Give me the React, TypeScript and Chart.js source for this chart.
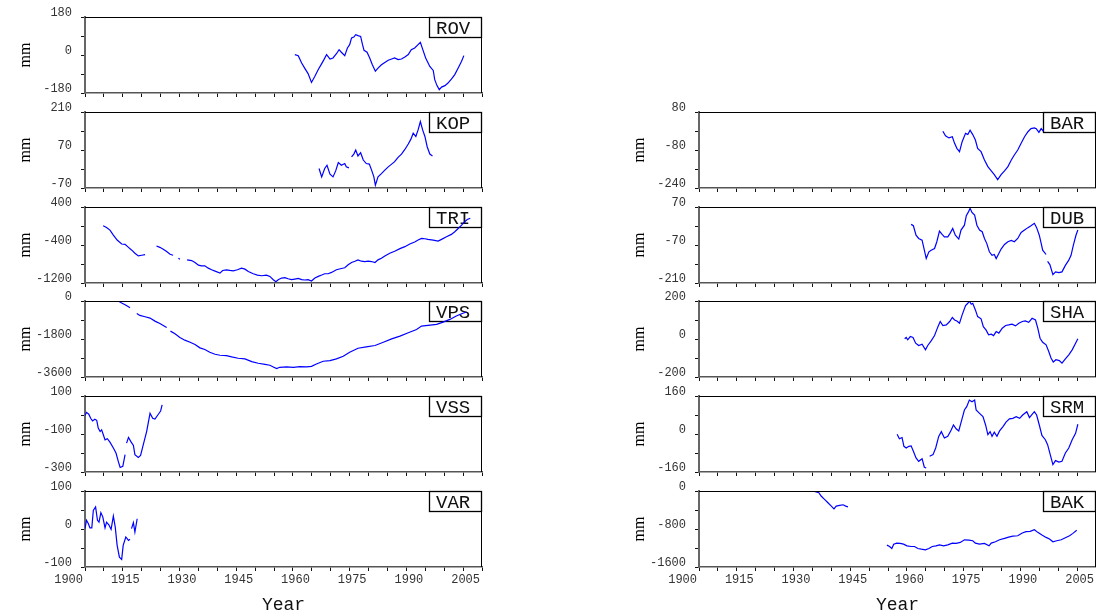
import React, { useEffect, useRef } from 'react';
import { Chart, registerables } from 'chart.js';

Chart.register(...registerables);

type Pt = [number, number | null];

// ---- data (year, mm); null = gap in record ----
const ROV: Pt[] = [[1955.5,2],[1956.4,-3],[1957.3,-38],[1958.1,-62],[1959.0,-88],[1959.9,-130],[1960.8,-101],[1961.7,-69],[1962.6,-41],[1963.2,-22],[1963.9,2],[1964.8,-19],[1965.6,-14],[1966.5,6],[1967.2,25],[1967.8,13],[1968.7,-3],[1969.4,33],[1970.0,49],[1970.5,81],[1971.1,85],[1971.6,96],[1972.2,92],[1972.9,88],[1973.4,49],[1973.8,22],[1974.6,13],[1975.3,-14],[1976.0,-46],[1976.8,-77],[1977.5,-62],[1978.4,-46],[1979.3,-35],[1980.2,-25],[1981.1,-19],[1981.9,-14],[1982.8,-22],[1983.7,-19],[1984.6,-9],[1985.5,2],[1986.3,25],[1987.2,33],[1988.1,49],[1988.7,60],[1989.3,28],[1990.1,-14],[1991.2,-54],[1992.1,-73],[1992.5,-117],[1993.1,-145],[1993.7,-164],[1994.3,-152],[1995.2,-145],[1996.0,-133],[1996.9,-114],[1997.8,-93],[1998.7,-62],[1999.6,-30],[2000.2,-3]];

const KOP: Pt[] = [[1961.9,2],[1962.6,-29],[1963.4,2],[1964.0,14],[1964.8,-19],[1965.6,-29],[1966.3,-7],[1967.0,24],[1967.8,14],[1968.7,20],[1969.1,8],[1969.8,4],[1970.1,null],[1970.5,45],[1971.1,55],[1971.6,70],[1972.2,48],[1972.9,60],[1973.6,33],[1974.4,20],[1975.2,18],[1975.8,-4],[1976.4,-29],[1976.8,-60],[1977.5,-29],[1978.4,-17],[1979.3,-4],[1980.2,8],[1981.1,18],[1981.9,27],[1982.8,43],[1983.7,55],[1984.6,72],[1985.5,92],[1986.2,110],[1986.8,132],[1987.5,120],[1988.1,144],[1988.7,175],[1989.3,144],[1989.9,120],[1990.5,82],[1991.2,55],[1991.9,48]];

const TRI: Pt[] = [[1904.8,4],[1905.7,-31],[1906.6,-87],[1907.5,-191],[1908.5,-296],[1909.7,-379],[1910.6,-386],[1911.5,-449],[1912.3,-504],[1913.2,-574],[1914.1,-630],[1915.0,-616],[1915.9,-602],[1917.4,null],[1918.9,-421],[1919.8,-449],[1920.7,-490],[1921.6,-539],[1922.5,-595],[1923.3,-616],[1924.0,null],[1924.7,-678],[1925.1,-699],[1926.0,null],[1927.0,-713],[1928.2,-727],[1929.1,-769],[1930.0,-824],[1930.8,-838],[1931.7,-838],[1932.6,-887],[1933.5,-922],[1934.4,-950],[1935.7,-991],[1936.4,-936],[1937.4,-922],[1938.3,-936],[1939.2,-943],[1940.3,-922],[1941.4,-887],[1942.3,-908],[1943.2,-957],[1944.5,-1005],[1945.6,-1033],[1946.7,-1047],[1948.0,-1033],[1948.9,-1061],[1949.8,-1130],[1950.5,-1172],[1951.1,-1130],[1952.0,-1096],[1952.9,-1089],[1953.7,-1110],[1954.6,-1130],[1955.5,-1117],[1956.4,-1103],[1957.3,-1130],[1958.1,-1137],[1959.0,-1130],[1959.9,-1158],[1960.8,-1096],[1961.7,-1061],[1962.6,-1033],[1963.4,-1005],[1964.3,-1005],[1965.2,-977],[1966.5,-922],[1967.8,-894],[1968.7,-880],[1969.6,-817],[1970.5,-769],[1971.4,-741],[1972.2,-713],[1973.1,-741],[1974.0,-748],[1974.9,-741],[1975.8,-748],[1976.7,-769],[1977.5,-713],[1978.4,-678],[1979.3,-630],[1980.6,-574],[1981.9,-532],[1983.3,-477],[1984.6,-435],[1985.9,-379],[1987.2,-337],[1988.1,-296],[1989.0,-261],[1989.9,-268],[1990.7,-282],[1992.1,-296],[1993.4,-317],[1994.3,-282],[1995.6,-226],[1996.9,-177],[1997.8,-122],[1998.7,-52],[1999.6,17],[2000.4,87],[2001.1,136],[2001.9,163]];

const VPS: Pt[] = [[1908.8,0],[1909.7,-95],[1910.6,-174],[1911.5,-270],[1911.9,-317],[1912.8,null],[1913.7,-587],[1914.5,-682],[1915.9,-745],[1917.2,-809],[1918.5,-952],[1919.8,-1063],[1920.7,-1158],[1921.6,-1253],[1922.1,null],[1922.6,-1427],[1923.8,-1554],[1925.1,-1729],[1926.4,-1856],[1927.8,-1951],[1929.1,-2062],[1930.4,-2220],[1931.7,-2300],[1933.0,-2427],[1934.4,-2522],[1935.7,-2569],[1937.4,-2585],[1938.8,-2649],[1940.5,-2712],[1942.3,-2744],[1944.1,-2871],[1945.8,-2950],[1947.6,-2998],[1948.9,-3045],[1949.8,-3124],[1950.7,-3204],[1951.5,-3140],[1953.3,-3124],[1955.1,-3140],[1956.8,-3109],[1958.6,-3124],[1959.9,-3093],[1961.2,-2982],[1963.0,-2855],[1964.8,-2823],[1966.5,-2744],[1968.3,-2617],[1970.0,-2427],[1972.2,-2236],[1974.4,-2173],[1976.7,-2109],[1978.9,-1951],[1981.1,-1792],[1983.3,-1665],[1985.5,-1507],[1987.7,-1348],[1989.0,-1190],[1990.7,-1158],[1993.0,-1110],[1994.7,-999],[1996.5,-872],[1998.2,-714],[1999.6,-603],[2000.9,-523]];

const VSS: Pt[] = [[1900.0,-3],[1900.4,14],[1901.0,4],[1901.5,-17],[1902.0,-31],[1902.6,-22],[1903.1,-28],[1903.5,-69],[1904.0,-87],[1904.4,-78],[1904.8,-101],[1905.3,-131],[1905.9,-125],[1906.6,-143],[1907.5,-174],[1908.2,-200],[1908.8,-244],[1909.3,-276],[1910.0,-270],[1910.6,-209],[1910.8,null],[1911.0,-148],[1911.5,-118],[1912.1,-139],[1912.8,-160],[1913.2,-209],[1914.1,-223],[1914.7,-213],[1915.4,-157],[1916.3,-87],[1917.2,9],[1917.9,-17],[1918.5,-21],[1919.4,4],[1920.0,21],[1920.4,53]];

const VAR: Pt[] = [[1900.0,1],[1900.4,23],[1900.9,14],[1901.3,3],[1901.8,3],[1902.2,49],[1902.8,58],[1903.3,23],[1903.7,18],[1904.2,43],[1904.7,32],[1905.3,3],[1905.7,18],[1906.3,11],[1906.9,-1],[1907.5,34],[1908.0,5],[1908.5,-43],[1909.1,-74],[1909.7,-80],[1910.1,-43],[1910.8,-21],[1911.5,-30],[1911.9,-27],[1912.1,null],[1912.3,1],[1912.8,17],[1913.2,-8],[1913.8,27]];

const BAR: Pt[] = [[1964.5,-1],[1965.2,-20],[1966.1,-29],[1967.0,-24],[1967.6,-52],[1968.2,-73],[1968.9,-87],[1969.6,-45],[1970.5,-10],[1971.1,-15],[1971.7,3],[1972.4,-15],[1973.1,-38],[1973.7,-73],[1974.6,-87],[1975.5,-122],[1976.4,-150],[1977.3,-168],[1978.1,-184],[1979.0,-205],[1979.9,-184],[1980.8,-168],[1981.7,-150],[1982.6,-122],[1983.4,-101],[1984.3,-80],[1985.2,-52],[1986.1,-24],[1987.0,-3],[1987.8,10],[1988.7,13],[1989.2,10],[1989.9,-6],[1990.5,10],[1991.1,-1]];

const DUB: Pt[] = [[1956.1,6],[1956.7,1],[1957.4,-34],[1958.1,-46],[1959.0,-52],[1959.6,-89],[1960.1,-120],[1960.8,-95],[1961.4,-89],[1962.3,-83],[1962.9,-58],[1963.6,-19],[1964.3,-31],[1964.9,-40],[1965.8,-40],[1966.4,-27],[1967.1,-9],[1967.8,-34],[1968.7,-48],[1969.3,-15],[1970.2,3],[1970.7,38],[1971.3,53],[1971.7,65],[1972.2,50],[1972.9,40],[1973.5,3],[1974.2,-15],[1974.9,-21],[1975.5,-46],[1976.1,-64],[1976.8,-95],[1977.5,-108],[1978.1,-105],[1978.6,-120],[1979.3,-101],[1979.9,-85],[1980.8,-68],[1981.7,-58],[1982.6,-53],[1983.4,-58],[1984.3,-46],[1985.2,-24],[1986.1,-15],[1987.0,-6],[1987.8,1],[1988.7,10],[1989.3,-6],[1990.0,-34],[1990.5,-64],[1990.9,-89],[1991.8,-105],[1992.0,null],[1992.2,-130],[1992.8,-142],[1993.6,-179],[1994.3,-169],[1995.2,-172],[1996.0,-169],[1996.9,-145],[1997.8,-126],[1998.4,-108],[1999.0,-71],[1999.7,-34],[2000.2,-15]];

const SHA: Pt[] = [[1954.4,1],[1954.8,8],[1955.2,-4],[1955.9,13],[1956.6,8],[1957.3,-22],[1958.1,-34],[1959.0,-27],[1959.9,-57],[1960.5,-34],[1961.4,-10],[1962.3,18],[1963.2,65],[1963.8,92],[1964.5,71],[1965.4,74],[1966.3,92],[1967.0,113],[1967.6,100],[1968.2,95],[1968.9,83],[1969.6,127],[1970.5,176],[1971.1,188],[1971.5,200],[1972.0,183],[1972.4,188],[1973.1,153],[1973.7,118],[1974.6,106],[1975.2,65],[1975.9,48],[1976.6,22],[1977.3,25],[1977.9,18],[1978.6,39],[1979.3,31],[1980.2,57],[1981.1,71],[1981.9,74],[1982.8,78],[1983.7,69],[1984.6,83],[1985.5,92],[1986.3,95],[1987.2,88],[1988.1,109],[1989.0,100],[1989.6,57],[1990.2,4],[1990.9,-17],[1991.8,-31],[1992.5,-66],[1993.1,-100],[1993.7,-121],[1994.4,-109],[1995.3,-114],[1996.0,-127],[1996.9,-104],[1997.8,-83],[1998.7,-57],[1999.6,-22],[2000.2,1]];

const SRM: Pt[] = [[1952.4,-1],[1953.0,-20],[1953.7,-15],[1954.2,-52],[1954.8,-59],[1955.5,-52],[1956.1,-50],[1956.7,-73],[1957.4,-101],[1958.1,-115],[1959.0,-104],[1959.6,-140],[1960.1,-143],[1960.5,null],[1961.0,-94],[1961.9,-87],[1962.6,-59],[1963.4,-10],[1964.1,10],[1964.9,-17],[1965.8,-10],[1966.7,17],[1967.3,38],[1968.0,22],[1968.7,13],[1969.6,66],[1970.2,101],[1970.8,115],[1971.5,143],[1972.2,136],[1972.9,143],[1973.3,101],[1974.2,87],[1975.1,73],[1975.8,38],[1976.4,-3],[1977.0,10],[1977.5,-10],[1978.1,8],[1978.8,-10],[1979.5,13],[1980.4,31],[1981.2,50],[1982.1,64],[1983.0,66],[1983.9,73],[1984.8,66],[1985.6,80],[1986.7,94],[1987.4,69],[1988.1,83],[1988.7,94],[1989.3,80],[1990.0,38],[1990.7,-6],[1991.6,-24],[1992.2,-45],[1992.9,-87],[1993.6,-129],[1994.3,-112],[1995.2,-118],[1996.0,-115],[1996.9,-80],[1997.8,-59],[1998.7,-24],[1999.6,3],[2000.2,41]];

const BAK: Pt[] = [[1930.1,0],[1931.0,-21],[1931.7,-35],[1932.3,-106],[1933.2,-177],[1934.1,-248],[1935.0,-319],[1935.7,-375],[1936.3,-319],[1937.2,-304],[1938.1,-290],[1938.8,-319],[1939.4,-333],[1944.0,null],[1949.7,-1140],[1950.4,-1168],[1951.0,-1211],[1951.5,-1119],[1952.3,-1097],[1953.2,-1104],[1954.1,-1119],[1955.0,-1154],[1956.1,-1168],[1957.0,-1168],[1957.9,-1211],[1958.8,-1225],[1959.9,-1239],[1960.8,-1211],[1961.7,-1168],[1962.7,-1154],[1963.6,-1133],[1964.7,-1154],[1965.8,-1133],[1967.0,-1097],[1968.0,-1104],[1969.1,-1083],[1970.2,-1027],[1971.4,-1034],[1972.4,-1048],[1973.1,-1097],[1974.2,-1119],[1975.5,-1104],[1976.7,-1154],[1977.3,-1097],[1978.4,-1069],[1979.5,-1027],[1980.8,-998],[1981.9,-970],[1983.0,-949],[1984.3,-942],[1985.5,-885],[1986.5,-857],[1987.6,-850],[1988.7,-814],[1989.6,-871],[1990.7,-927],[1991.8,-977],[1992.7,-1012],[1993.6,-1069],[1994.6,-1048],[1995.8,-1027],[1996.9,-984],[1998.0,-942],[1998.9,-892],[1999.9,-828]];

// axis settings
const X_MIN = 1900;
const X_MAX = 2005;
const X_STEP = 5;
const X_LABEL_EVERY = 15;

const STATION_NAMES = ['ROV', 'KOP', 'TRI', 'VPS', 'VSS', 'VAR', 'BAR', 'DUB', 'SHA', 'SRM', 'BAK'];
const STATION_DATA: Pt[][] = [ROV, KOP, TRI, VPS, VSS, VAR, BAR, DUB, SHA, SRM, BAK];
const Y_MIN = [-180, -70, -1200, -3600, -300, -100, -240, -210, -200, -160, -1600];
const Y_MAX = [180, 210, 400, 0, 100, 100, 80, 70, 200, 160, 0];
const COLUMN = [0, 0, 0, 0, 0, 0, 1, 1, 1, 1, 1];
const ROW = [0, 1, 2, 3, 4, 5, 1, 2, 3, 4, 5];

// layout
const COL_LEFT = [0, 614];
const ROW_TOP = [17, 112, 207, 301, 396, 491];
const PLOT_W = 397;
const PLOT_H = 76;
const Y_AXIS_W = 85;
const TOP_PAD = 12;

const MONO = 'Liberation Mono';

function framePlugin(label: string) {
  return {
    id: 'frame_' + label,
    beforeDatasetsDraw(chart: any) {
      const { ctx, chartArea } = chart;
      const { top, right } = chartArea;
      const w = 53;
      const h = 20;
      ctx.save();
      ctx.fillStyle = '#ffffff';
      ctx.fillRect(right - w, top, w, h);
      ctx.strokeStyle = '#000000';
      ctx.lineWidth = 1.3;
      ctx.strokeRect(Math.round(right - w) + 0.5, Math.round(top) + 0.5, w - 1, h);
      ctx.fillStyle = '#111111';
      ctx.font = `19px "${MONO}"`;
      ctx.textBaseline = 'middle';
      ctx.textAlign = 'left';
      ctx.fillText(label, right - w + 7, top + h / 2 + 1.5);
      ctx.restore();
    },
    afterDraw(chart: any) {
      const { ctx, chartArea } = chart;
      const { left, top, right, bottom } = chartArea;
      ctx.save();
      ctx.strokeStyle = '#000000';
      ctx.lineWidth = 1;
      ctx.beginPath();
      ctx.moveTo(left, Math.round(top) + 0.5);
      ctx.lineTo(right, Math.round(top) + 0.5);
      ctx.moveTo(Math.round(right) - 0.5, top);
      ctx.lineTo(Math.round(right) - 0.5, bottom);
      ctx.stroke();
      ctx.restore();
    },
  };
}

function Panel({ idx }: { idx: number }) {
  const ref = useRef<HTMLCanvasElement | null>(null);
  const col = COLUMN[idx];
  const row = ROW[idx];
  const isBottom = row === 5;
  const rightPad = col === 0 ? 18 : 1;
  const xH = isBottom ? 49 : 10;
  const W = Y_AXIS_W + PLOT_W + rightPad;
  const H = TOP_PAD + PLOT_H + xH;
  const min = Y_MIN[idx];
  const max = Y_MAX[idx];

  useEffect(() => {
    if (!ref.current) return;
    const chart = new Chart(ref.current, {
      type: 'line',
      data: {
        datasets: [
          {
            data: STATION_DATA[idx].map(([x, y]) => ({ x, y })) as any,
            borderColor: '#0000ff',
            borderWidth: 1.2,
            pointRadius: 0,
            tension: 0,
            spanGaps: false,
            fill: false,
          },
        ],
      },
      options: {
        responsive: false,
        animation: false,
        devicePixelRatio: 1,
        events: [],
        layout: { padding: { top: TOP_PAD, left: 0, right: rightPad, bottom: 0 } },
        plugins: { legend: { display: false }, tooltip: { enabled: false } },
        scales: {
          x: {
            type: 'linear',
            min: X_MIN,
            max: X_MAX,
            ticks: {
              stepSize: X_STEP,
              autoSkip: false,
              maxRotation: 0,
              minRotation: 0,
              align: 'end',
              labelOffset: -2,
              padding: 2,
              color: '#333333',
              font: { family: MONO, size: 12 },
              callback: (v: any) =>
                isBottom && (Number(v) - X_MIN) % X_LABEL_EVERY === 0 ? String(v) : '',
            },
            grid: { drawOnChartArea: false, drawTicks: true, tickLength: 4, color: '#111111' },
            border: { display: true, color: '#555555', width: 1.5 },
            title: {
              display: isBottom,
              text: 'Year',
              color: '#111111',
              font: { family: MONO, size: 18 },
              padding: 0,
            },
            afterFit: (s: any) => {
              s.height = xH;
              s.paddingLeft = 0;
              s.paddingRight = 0;
            },
          } as any,
          y: {
            type: 'linear',
            min,
            max,
            ticks: {
              stepSize: (max - min) / 4,
              autoSkip: false,
              padding: 9,
              labelOffset: -4,
              color: '#333333',
              font: { family: MONO, size: 12 },
              callback: (v: any, i: number) => (i % 2 === 0 ? String(v) : ''),
            },
            grid: { drawOnChartArea: false, drawTicks: true, tickLength: 4, color: '#111111' },
            border: { display: true, color: '#666666', width: 2 },
            title: {
              display: true,
              text: 'mm',
              color: '#000000',
              font: { family: 'Liberation Serif', size: 16 },
              padding: { top: 16, bottom: 0 },
            },
            afterFit: (s: any) => {
              s.width = Y_AXIS_W;
              s.paddingTop = 0;
              s.paddingBottom = 0;
            },
          } as any,
        },
      },
      plugins: [framePlugin(STATION_NAMES[idx]) as any],
    });
    return () => chart.destroy();
  }, []);

  return (
    <canvas
      ref={ref}
      width={W}
      height={H}
      style={{
        position: 'absolute',
        left: COL_LEFT[col],
        top: ROW_TOP[row] - TOP_PAD,
        width: W,
        height: H,
      }}
    />
  );
}

export default function App() {
  return (
    <div
      style={{
        position: 'fixed',
        left: 0,
        top: 0,
        width: 1096,
        height: 614,
        overflow: 'hidden',
        background: '#ffffff',
      }}
    >
      {STATION_NAMES.map((_, i) => (
        <Panel key={i} idx={i} />
      ))}
    </div>
  );
}
